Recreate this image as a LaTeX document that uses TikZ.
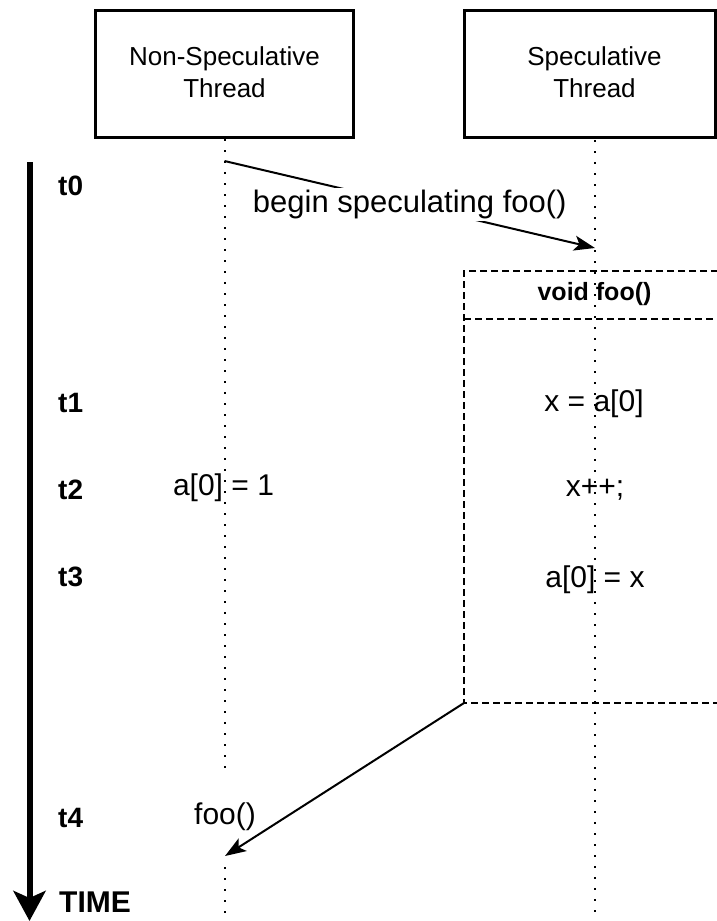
\documentclass[tikz,border=0pt]{standalone}
\usepackage{fontspec}
\setmainfont{Liberation Sans}
\usetikzlibrary{arrows.meta}

\begin{document}
\begin{tikzpicture}[x=1pt,y=-1pt,
  threadbox/.style={draw, line width=3pt, minimum height=127pt, inner sep=0pt},
  headtext/.style={font=\fontsize{26}{32}\selectfont, align=center, inner sep=0pt},
  lifeline/.style={line width=2pt, dash pattern=on 2pt off 9pt},
  tlabel/.style={font=\fontsize{28}{30}\selectfont\bfseries, inner sep=0pt, anchor=west},
  stmt/.style={font=\fontsize{30}{34}\selectfont, inner sep=0pt},
  msg/.style={line width=2pt, -{Stealth[length=21pt,width=15pt,inset=5pt]}},
  msglabel/.style={font=\fontsize{31}{34}\selectfont, fill=white, inner sep=2pt},
  frameline/.style={line width=2pt, dash pattern=on 7pt off 4pt},
  timeaxis/.style={line width=6pt, -{Stealth[length=30pt,width=32pt,inset=7pt]}}
]
\useasboundingbox (0,0) rectangle (717,921);
\clip (0,0) rectangle (717,921);

% thread headers
\node[threadbox, minimum width=258pt] (nonspec) at (224.5,74) {};
\node[headtext] (nonspectext) at (224.5,72) {Non-Speculative\\Thread};
\node[threadbox, minimum width=251pt] (spec) at (590,74) {};
\node[headtext] (spectext) at (594.5,72) {Speculative\\Thread};

% lifelines
\coordinate (ll1end) at (224.5,772);
\coordinate (ll1resume) at (224.5,867);
\coordinate (ll1bottom) at (224.5,930);
\coordinate (ll2bottom) at (595,930);
\draw[lifeline] (nonspectext |- nonspec.south) -- (ll1end);
\draw[lifeline] (ll1resume) -- (ll1bottom);
\draw[lifeline] (595,140) -- (ll2bottom);

% speculative function frame
\coordinate (fooTL) at (464,271);
\coordinate (fooHL) at (464,319);
\coordinate (fooBL) at (464,703);
\draw[frameline] (740,271) -- (fooTL) -- (fooBL) -- (740,703);
\draw[frameline] (fooHL) -- (740,319);
\node[font=\fontsize{25}{30}\selectfont\bfseries, inner sep=0pt] (foohead) at (594.5,294) {void foo()};

% time axis
\coordinate (timeTop) at (29.5,162);
\coordinate (timeEnd) at (29.5,921);
\draw[timeaxis] (timeTop) -- (timeEnd);
\node[tlabel] (t0) at (58,186) {t0};
\node[tlabel] (t1) at (58,403) {t1};
\node[tlabel] (t2) at (58,490) {t2};
\node[tlabel] (t3) at (58,577) {t3};
\node[tlabel] (t4) at (58,818) {t4};
\node[tlabel, font=\fontsize{30}{32}\selectfont\bfseries] (timelabel) at (59,902) {TIME};

% statements
\node[stmt] (s1) at (594,404) {x = a[0]};
\node[stmt] (s2) at (595,490) {x++;};
\node[stmt] (s3) at (595,580) {a[0] = x};
\node[stmt] (n1) at (223.5,488) {a[0] = 1};
\node[stmt] (n2) at (225,817) {foo()};

% messages
\coordinate (m0) at (224.5,161);
\coordinate (m1) at (595,248);
\draw[msg] (m0) -- node[msglabel] (mlabel) {begin speculating foo()} (m1);
\coordinate (ret) at (225,856);
\draw[msg] (fooBL) -- (ret);
\end{tikzpicture}
\end{document}
